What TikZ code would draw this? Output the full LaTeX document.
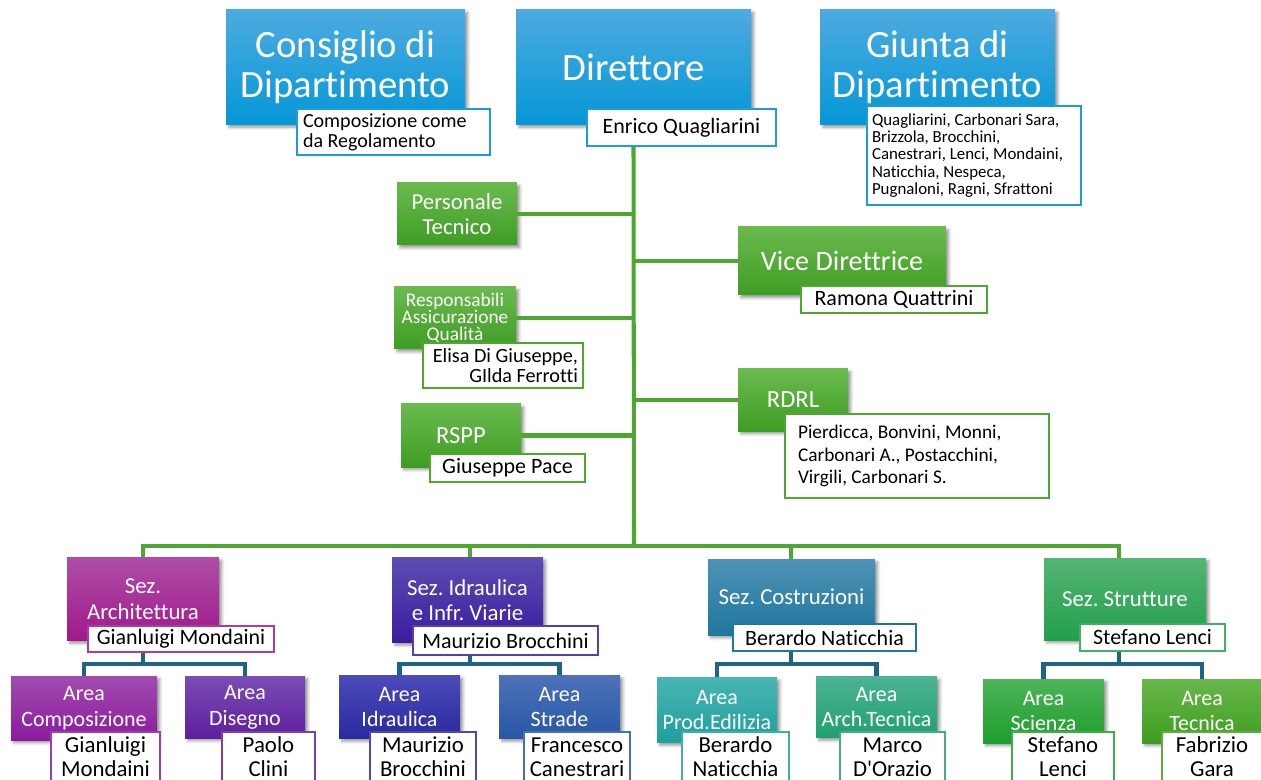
\documentclass[tikz,border=0pt]{standalone}
\usepackage{fontspec}
\setmainfont{Carlito}[Ligatures={TeX,NoCommon}]
\usetikzlibrary{shadows.blur}
\frenchspacing

\definecolor{blueA}{HTML}{4DABE0}
\definecolor{blueB}{HTML}{0597D6}
\definecolor{blueL}{HTML}{1C9DDB}
\definecolor{greenA}{HTML}{6ABA4E}
\definecolor{greenB}{HTML}{3F9D23}
\definecolor{greenL}{HTML}{4EA72E}
\definecolor{linkB}{HTML}{1E6485}
\definecolor{archA}{HTML}{AE4DA6}
\definecolor{archB}{HTML}{A0198B}
\definecolor{idrA}{HTML}{5E4DB3}
\definecolor{idrB}{HTML}{3A1B9E}
\definecolor{cosA}{HTML}{4F92B5}
\definecolor{cosB}{HTML}{1F779E}
\definecolor{strA}{HTML}{55B474}
\definecolor{strB}{HTML}{22A04B}
\definecolor{compA}{HTML}{A24BB0}
\definecolor{compB}{HTML}{8A1C9C}
\definecolor{disA}{HTML}{7B4DB4}
\definecolor{disB}{HTML}{5F1E9F}
\definecolor{aidA}{HTML}{4D4BBA}
\definecolor{aidB}{HTML}{2A299E}
\definecolor{astA}{HTML}{4D72BA}
\definecolor{astB}{HTML}{2757A6}
\definecolor{proA}{HTML}{48B5B4}
\definecolor{proB}{HTML}{1E9F9C}
\definecolor{arcA}{HTML}{4DB394}
\definecolor{arcB}{HTML}{1FA06F}
\definecolor{sciA}{HTML}{4DB458}
\definecolor{sciB}{HTML}{1E9E2C}
\definecolor{tecA}{HTML}{68B84B}
\definecolor{tecB}{HTML}{3F9D1E}

\newdimen\pxu
\pxu=0.02cm

\tikzset{
    wh/.style 2 args={minimum width=#1\pxu, minimum height=#2\pxu},
    head/.style={inner sep=0pt, align=flush center, text=white,
        blur shadow={shadow xshift=1.6pt, shadow yshift=-1.6pt,
            shadow blur radius=1.6pt, shadow opacity=40}},
    bigbox/.style={head, top color=blueA, bottom color=blueB,
        font=\fontsize{22}{22.5}\selectfont},
    greenbox/.style={head, top color=greenA, bottom color=greenB},
    secbox/.style 2 args={head, top color=#1, bottom color=#2,
        font=\fontsize{13}{14.5}\selectfont},
    areabox/.style 2 args={head, top color=#1, bottom color=#2,
        font=\fontsize{12.5}{14.7}\selectfont},
    namebox/.style={draw=#1, fill=white, line width=1.2pt, inner sep=0pt,
        align=flush center, text=black, font=\fontsize{12.5}{14}\selectfont},
    areaname/.style={namebox=#1, font=\fontsize{13}{13.6}\selectfont},
    conn/.style={draw=greenL, line width=2.3pt},
    subconn/.style={draw=linkB, line width=2.3pt},
}

\begin{document}
\begin{tikzpicture}[x=0.02cm, y=-0.02cm]

    \useasboundingbox (0,0) rectangle (1261,780);
    \clip (0,0) rectangle (1261,780);

    %% Top level

    % Consiglio
    \node [bigbox, wh={239}{115}] (cons) at (345.5,67) {Consiglio di\\Dipartimento};
    \node [namebox=blueL, wh={193}{46}, text width=181\pxu, align=flush left,
        font=\fontsize{11.4}{11.4}\selectfont] (consp) at (393.5,132)
        {Composizione come\\da Regolamento};

    % Direttore
    \node [bigbox, wh={235}{115}] (dir) at (633.5,67) {Direttore};
    \node [namebox=blueL, wh={189}{37}] (dirp) at (681.5,127.5) {Enrico Quagliarini};

    % Giunta
    \node [bigbox, wh={235}{115}] (giu) at (937.5,67) {Giunta di\\Dipartimento};
    \node [namebox=blueL, wh={214}{99}, text width=204\pxu, align=flush left,
        font=\fontsize{9.6}{9.9}\selectfont] (giup) at (974,155.5)
        {Quagliarini, Carbonari Sara,\\Brizzola, Brocchini,\\Canestrari, Lenci, Mondaini,\\Naticchia, Nespeca,\\Pugnaloni, Ragni, Sfrattoni};

    %% Staff (green)

    \node [greenbox, wh={120}{62}, font=\fontsize{13}{14.2}\selectfont] (pers) at (457,214) {Personale\\Tecnico};

    \node [greenbox, wh={208}{68}, font=\fontsize{16}{17}\selectfont] (vice) at (842,261) {Vice Direttrice};
    \node [namebox=greenL, wh={186}{27}] (vicep) at (894,299.5) {Ramona Quattrini};

    \node [greenbox, wh={122}{62}, font=\fontsize{11}{9.8}\selectfont] (resp) at (455,318) {Responsabili\\Assicurazione\\Qualità};
    \node [namebox=greenL, wh={160}{45}, text width=150\pxu, align=flush right,
        font=\fontsize{11.5}{11.3}\selectfont] (respp) at (503,365.5)
        {Elisa Di Giuseppe,\\GIlda Ferrotti};

    \node [greenbox, wh={110}{62}, font=\fontsize{14}{15}\selectfont] (rdrl) at (793,400) {RDRL};
    \node [namebox=greenL, wh={264}{84}, text width=238\pxu, align=flush left,
        font=\fontsize{11}{12.8}\selectfont] (rdrlp) at (917,456)
        {Pierdicca, Bonvini, Monni,\\Carbonari A., Postacchini,\\Virgili, Carbonari S.};

    \node [greenbox, wh={120}{63}, font=\fontsize{14}{15}\selectfont] (rspp) at (461,435.5) {RSPP};
    \node [namebox=greenL, wh={155}{28}] (rsppp) at (507.5,468) {Giuseppe Pace};

    %% Sections

    \node [secbox={archA}{archB}, wh={152}{83}] (sarch) at (143,599) {Sez.\\Architettura};
    \node [namebox=archB!85, wh={186}{26}] (sarchp) at (181,639) {Gianluigi Mondaini};

    \node [secbox={idrA}{idrB}, wh={151}{85}] (sidr) at (467.5,600) {Sez. Idraulica\\e Infr. Viarie};
    \node [namebox=idrB!85, wh={185}{29}] (sidrp) at (505.5,640.5) {Maurizio Brocchini};

    \node [secbox={cosA}{cosB}, wh={167}{76}] (scos) at (791.5,597) {Sez. Costruzioni};
    \node [namebox=cosB, wh={183}{27}] (scosp) at (824.5,637.5) {Berardo Naticchia};

    \node [secbox={strA}{strB}, wh={162}{82}] (sstr) at (1125,599) {Sez. Strutture};
    \node [namebox=strB!85, wh={145}{27}] (sstrp) at (1152.5,637.5) {Stefano Lenci};

    %% Areas

    \node [areabox={compA}{compB}, wh={146}{64}] (acomp) at (84,708) {Area\\Composizione};
    \node [areaname=compB!85, wh={109}{50}] (acompp) at (105.5,757) {Gianluigi\\Mondaini};

    \node [areabox={disA}{disB}, wh={120}{62}] (adis) at (245,707) {Area\\Disegno};
    \node [areaname=disB!85, wh={93}{50}] (adisp) at (268.5,757) {Paolo\\Clini};

    \node [areabox={aidA}{aidB}, wh={121}{63}] (aidr) at (399.5,707) {Area\\Idraulica};
    \node [areaname=aidB!85, wh={106}{50}] (aidrp) at (423,757) {Maurizio\\Brocchini};

    \node [areabox={astA}{astB}, wh={121}{63}] (astr) at (559.5,707) {Area\\Strade};
    \node [areaname=astB!85, wh={106}{50}] (astrp) at (577,757) {Francesco\\Canestrari};

    \node [areabox={proA}{proB}, wh={120}{65}] (aprod) at (717,710) {Area\\Prod.Edilizia};
    \node [areaname=proB!85, wh={107}{50}] (aprodp) at (735.5,757) {Berardo\\Naticchia};

    \node [areabox={arcA}{arcB}, wh={121}{61}] (aarc) at (876.5,707) {Area\\Arch.Tecnica};
    \node [areaname=arcB!85, wh={105}{50}] (aarcp) at (892.5,757) {Marco\\D\textquotesingle Orazio};

    \node [areabox={sciA}{sciB}, wh={121}{64}] (asci) at (1043.5,711) {Area\\Scienza};
    \node [areaname=sciB!85, wh={102}{50}] (ascip) at (1063,757) {Stefano\\Lenci};

    \node [areabox={tecA}{tecB}, wh={120}{64}] (atec) at (1202,711) {Area\\Tecnica};
    \node [areaname=tecB!85, wh={100}{50}] (atecp) at (1212,757) {Fabrizio\\Gara};

    %% Connectors

    % Trunk
    \coordinate (top) at (dir |- dirp.south);
    \coordinate (bus) at (634,546);
    \draw [conn] (top) -- (bus);

    % Staff
    \draw [conn] (pers.east) -- (pers.east -| top);
    \draw [conn] (resp.east) -- (resp.east -| top);
    \draw [conn] (rspp.east) -- (rspp.east -| top);
    \draw [conn] (vice.west) -- (vice.west -| top);
    \draw [conn] (rdrl.west) -- (rdrl.west -| top);

    % Bus to sections
    \draw [conn] (sarch.north) |- (bus) -| (sstr.north -| 1119,0);
    \draw [conn] (470,546) -- (sidr.north -| 470,0);
    \draw [conn] (791,546) -- (scos.north -| 791,0);

    % Sections to areas
    \coordinate (jarch) at (143,664);
    \coordinate (jidr) at (470,664);
    \coordinate (jcos) at (791,664);
    \coordinate (jstr) at (1119,664);
    \draw [subconn] (sarchp.south -| jarch) -- (jarch);
    \draw [subconn] (acomp.north) |- (jarch) -| (adis.north);
    \draw [subconn] (sidrp.south -| jidr) -- (jidr);
    \draw [subconn] (aidr.north) |- (jidr) -| (astr.north);
    \draw [subconn] (scosp.south -| jcos) -- (jcos);
    \draw [subconn] (aprod.north) |- (jcos) -| (aarc.north);
    \draw [subconn] (sstrp.south -| jstr) -- (jstr);
    \draw [subconn] (asci.north) |- (jstr) -| (atec.north);

\end{tikzpicture}
\end{document}
